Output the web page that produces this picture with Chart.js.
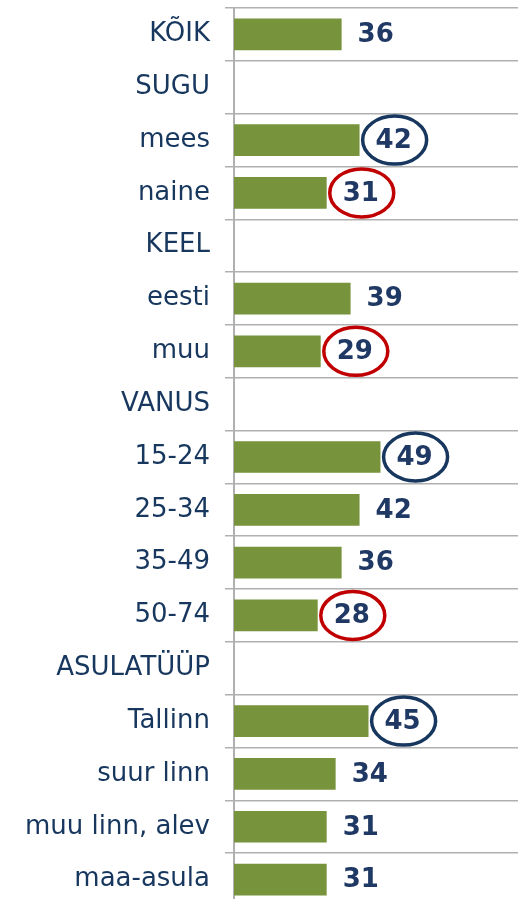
<!DOCTYPE html>
<html>
<head>
<meta charset="utf-8">
<script src="https://cdn.jsdelivr.net/npm/chart.js@4.4.0/dist/chart.umd.min.js"></script>
<style>
  body { margin: 0; background: #fff; overflow: hidden; }
  #wrap { position: absolute; left: 0; top: 0; width: 518px; height: 906px; }
</style>
</head>
<body>
<div id="wrap"><canvas id="chart"></canvas></div>
<script>
// rows of the chart, top to bottom (group headers have no value)
const categories = ['KÕIK', 'SUGU', 'mees', 'naine', 'KEEL', 'eesti', 'muu', 'VANUS',
  '15-24', '25-34', '35-49', '50-74', 'ASULATÜÜP', 'Tallinn', 'suur linn', 'muu linn, alev', 'maa-asula'];
const values = [36, null, 42, 31, null, 39, 29, null, 49, 42, 36, 28, null, 45, 34, 31, 31];
// circled values: 'hi' = above average (blue), 'lo' = below (red)
const marks = [null, null, 'hi', 'lo', null, null, 'lo', null, 'hi', null, null, 'lo', null, 'hi', null, null, null];

const barColor = '#77933c';
const textColor = '#1f3864';
const gridColor = '#b0b0b0';
const markColors = { hi: '#17375e', lo: '#c00000' };

// draws value labels and the ellipses round some of them
const valueLabels = {
  id: 'valueLabels',
  afterDatasetsDraw(chart) {
    const ctx = chart.ctx;
    const meta = chart.getDatasetMeta(0);
    ctx.save();
    ctx.font = 'bold 26px "DejaVu Sans"';
    ctx.textBaseline = 'middle';
    ctx.textAlign = 'left';
    meta.data.forEach((bar, i) => {
      if (values[i] == null) return;
      const txt = String(values[i]);
      const x = bar.x + 16;
      const w = ctx.measureText(txt).width;
      ctx.fillStyle = textColor;
      ctx.fillText(txt, x, bar.y + 1);
      if (marks[i]) {
        ctx.beginPath();
        ctx.ellipse(x + w / 2 + 1, bar.y, 32, 24, 0, 0, Math.PI * 2);
        ctx.lineWidth = 3.5;
        ctx.strokeStyle = markColors[marks[i]];
        ctx.stroke();
      }
    });
    ctx.restore();
  }
};

new Chart(document.getElementById('chart'), {
  type: 'bar',
  data: {
    labels: categories,
    datasets: [{
      data: values,
      backgroundColor: barColor,
      borderWidth: 0,
      categoryPercentage: 1,
      barPercentage: 0.6
    }]
  },
  options: {
    indexAxis: 'y',
    responsive: true,
    maintainAspectRatio: false,
    animation: false,
    layout: { padding: { top: 8, left: 0, right: 0, bottom: 0 } },
    plugins: {
      legend: { display: false },
      tooltip: { enabled: false }
    },
    scales: {
      x: {
        display: false,
        min: 0,
        max: 95
      },
      y: {
        afterFit(scale) {
          scale.width = 234;
          scale.paddingTop = 0;
          scale.paddingBottom = 0;
        },
        grid: {
          offset: true,
          color: gridColor,
          lineWidth: 1.5,
          tickLength: 9
        },
        border: { color: gridColor, width: 2 },
        ticks: {
          padding: 15,
          color: '#17375e',
          font: { family: 'DejaVu Sans', size: 26 },
          autoSkip: false
        }
      }
    }
  },
  plugins: [valueLabels]
});
</script>
</body>
</html>
